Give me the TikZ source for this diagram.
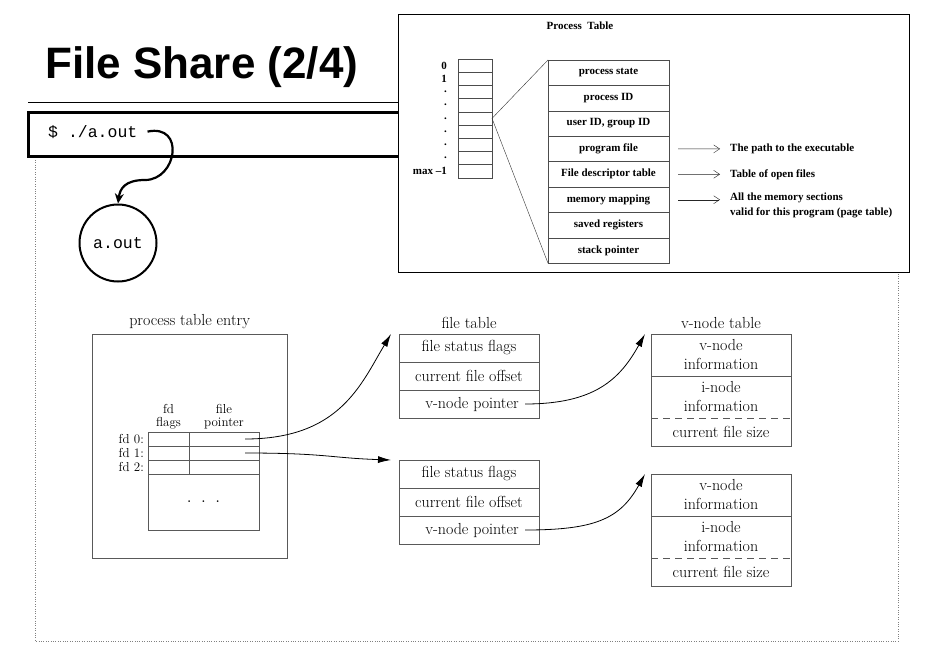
\documentclass[tikz,border=0pt]{standalone}
\usepackage{fontspec}
\newfontfamily\titlefont{Liberation Sans}
\newfontfamily\shellfont{Liberation Mono}
\newfontfamily\scanfont{Liberation Serif}
\usetikzlibrary{arrows.meta,positioning,calc}
\tikzset{
    slot/.style={draw=gray!60!black, minimum width=34pt, minimum height=13.2pt, inner sep=0, outer sep=0},
    ptrow/.style={draw=gray!60!black, minimum width=121pt, minimum height=25.4pt, inner sep=0, outer sep=0,
        font=\scanfont\bfseries\fontsize{11}{13}\selectfont},
    scantext/.style={inner sep=0, font=\scanfont\bfseries\fontsize{11}{15}\selectfont},
    barb/.style={-{Straight Barb[length=6pt,width=8pt]}, gray!30!black, thin},
    ftrow/.style={draw=gray!70!black, minimum width=140pt, minimum height=28pt, inner sep=0, outer sep=0,
        font=\fontsize{16}{19}\selectfont},
    vnrow/.style={ftrow, minimum height=42pt, align=center},
    fdcell/.style={draw=gray!70!black, minimum height=14pt, inner sep=0, outer sep=0},
    smalllab/.style={inner sep=0, font=\fontsize{13}{12.5}\selectfont},
    biglab/.style={inner sep=0, font=\fontsize{16}{19}\selectfont},
    ptr/.style={-{Latex[length=13pt,width=7pt]}, line width=0.8pt}
}

\begin{document}
\begin{tikzpicture}[x=1pt, y=1pt]
    \useasboundingbox (0,0) rectangle (925,-656);

    % slide title and frame
    \node[anchor=base west, inner sep=0, font=\titlefont\bfseries\fontsize{44}{50}\selectfont] (title) at (45,-78) {File Share (2/4)};
    \draw[line width=1pt] (28,-102) -- (905,-102);
    \draw[gray, dotted] (35,-155) rectangle (898,-641);
    \node[draw, line width=3pt, minimum width=878pt, minimum height=44pt, inner sep=0, anchor=north west] (shell) at (27,-111) {};
    \node[anchor=base west, inner sep=0, font=\shellfont\fontsize{16.5}{18}\selectfont] (cmd) at (48,-137) {\$ ./a.out};
    \node[circle, draw, line width=2pt, minimum size=77pt, inner sep=0, font=\shellfont\fontsize{16.5}{18}\selectfont] (aout) at (118,-243) {a.out};
    \coordinate (bend) at (145,-180);
    \draw[line width=2.2pt, -{Stealth[length=10pt,width=9pt]}] ([xshift=10pt]cmd.east)
        .. controls +(38,8) and +(32,0) .. (bend)
        .. controls +(-20,0) and +(2,15) .. (aout.north);

    % process table inset
    \node[draw, fill=white, line width=1.2pt, minimum width=511pt, minimum height=258pt, inner sep=0, anchor=north west] (inset) at (398,-14) {};
    \node[scantext] (pttitle) at (580,-26) {Process\ \ Table};
    \foreach \lab [count=\i] in {0,1,.,.,.,.,.,.,max –1} {
        \node[slot] (s\i) at (475,{-59-13.2*(\i-0.5)}) {};
        \node[scantext, anchor=east] (sl\i) at ([xshift=-11pt]s\i.west) {\lab};
    }
    \foreach \lab [count=\i] in {process state, process ID, {user ID, group ID}, program file,
        File descriptor table, memory mapping, saved registers, stack pointer}
        \node[ptrow] (pt\i) at (608.5,{-60-25.4*(\i-0.5)}) {\lab};
    \draw[gray!40!black] (s5.east) -- (pt1.north west);
    \draw[gray!40!black] (s5.east) -- (pt8.south west);

    \node[scantext, anchor=west] (note1) at (730,-148.9) {The path to the executable};
    \node[scantext, anchor=west] (note2) at (730,-174.3) {Table of open files};
    \node[scantext, anchor=north west, align=left] (note3) at (730,-193) {All the memory sections\\valid for this program (page table)};
    \draw[barb] ([xshift=9pt]pt4.east) -- ([xshift=-10pt]note1.west);
    \draw[barb] ([xshift=9pt]pt5.east) -- ([xshift=-10pt]note2.west);
    \draw[barb] ([xshift=9pt]pt6.east) -- ([xshift=-10pt]pt6.east -| note3.west);

    % process table entry
    \node[draw=gray!70!black, minimum width=195pt, minimum height=224pt, inner sep=0, anchor=north west] (pte) at (92,-334) {};
    \node[biglab, above=5pt of pte] (ptelab) {process table entry};
    \foreach \i in {0,1,2} {
        \node[fdcell, minimum width=41pt] (fl\i) at (168.5,{-439-14*\i}) {};
        \node[fdcell, minimum width=70pt, right=0pt of fl\i] (fp\i) {};
        \node[smalllab, left=4pt of fl\i] (fd\i) {fd \i:};
    }
    \node[fdcell, minimum width=111pt, minimum height=56pt, anchor=north west, font=\fontsize{21}{21}\selectfont] (rest) at (fl2.south west) {.\hspace{9pt}.\hspace{9pt}.};
    \node[smalllab, align=center, above=3pt of fl0] (flagslab) {fd\\flags};
    \node[smalllab, align=center, above=3pt of fp0] (ptrlab) {file\\pointer};

    % file table
    \foreach \t/\top in {A/334, B/460} {
        \node[ftrow] (ft\t1) at (469,{-\top-14}) {file status flags};
        \node[ftrow, below=0pt of ft\t1] (ft\t2) {current file offset};
        \node[ftrow, below=0pt of ft\t2] (ft\t3) {};
        \node[biglab, anchor=east] (vp\t) at ([xshift=-20pt]ft\t3.east) {v-node pointer};
    }
    \node[biglab, above=5pt of ftA1] (ftlab) {file table};

    % v-node table
    \foreach \t/\top in {A/334, B/474} {
        \node[vnrow] (vt\t1) at (721,{-\top-21}) {v-node\\information};
        \node[vnrow, draw=none, below=0pt of vt\t1] (vt\t2) {i-node\\information};
        \node[ftrow, draw=none, below=0pt of vt\t2] (vt\t3) {current file size};
        \draw[gray!70!black] (vt\t2.north west) rectangle (vt\t3.south east);
        \draw[gray!70!black, dash pattern=on 7pt off 5pt] (vt\t2.south west) -- (vt\t2.south east);
    }
    \node[biglab, above=5pt of vtA1] (vtlab) {v-node table};

    % pointers
    \draw[ptr] ([xshift=-14pt]fp0.east) .. controls +(95,0) and +(-30,-50) .. ([xshift=-8pt]ftA1.north west);
    \draw[ptr] ([xshift=-14pt]fp1.east) .. controls +(80,0) and +(-60,2) .. ([xshift=-8pt]ftB1.north west);
    \draw[ptr] ([xshift=-14pt]ftA3.east) .. controls +(70,0) and +(-25,-45) .. ([xshift=-6pt]vtA1.north west);
    \draw[ptr] ([xshift=-14pt]ftB3.east) .. controls +(70,0) and +(-25,-45) .. ([xshift=-6pt]vtB1.north west);
\end{tikzpicture}
\end{document}
